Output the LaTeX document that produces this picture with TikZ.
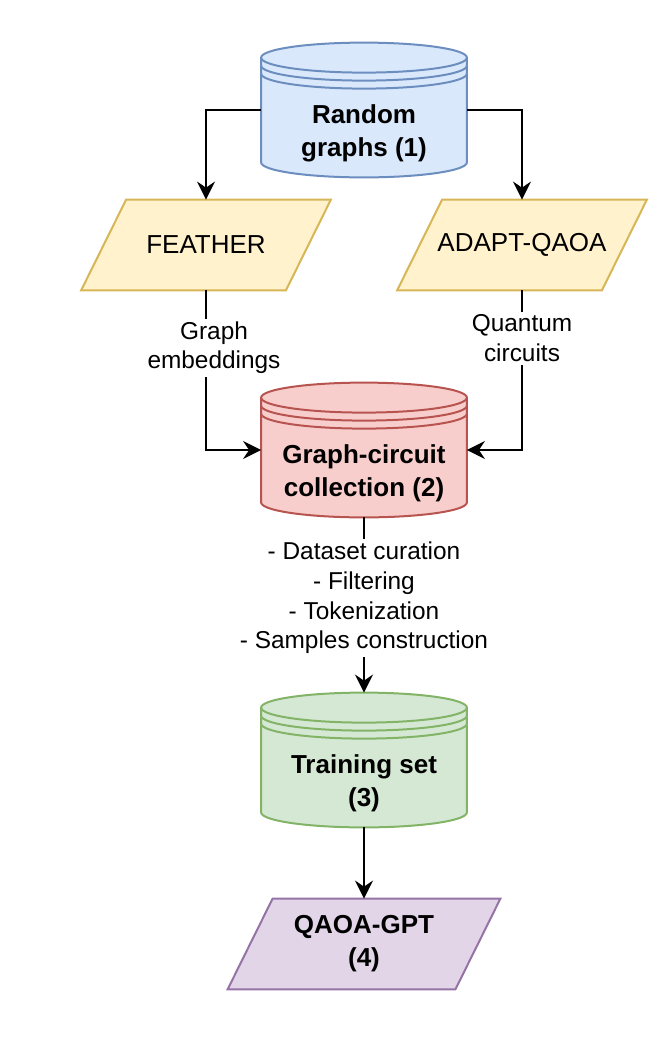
\documentclass[tikz,border=0pt]{standalone}
\usepackage{fontspec}
\setmainfont{Liberation Sans}
\usetikzlibrary{arrows.meta,backgrounds,calc}

\definecolor{blueFill}{HTML}{DAE8FC}
\definecolor{blueLine}{HTML}{6C8EBF}
\definecolor{yellowFill}{HTML}{FFF2CC}
\definecolor{yellowLine}{HTML}{D6B656}
\definecolor{redFill}{HTML}{F8CECC}
\definecolor{redLine}{HTML}{B85450}
\definecolor{greenFill}{HTML}{D5E8D4}
\definecolor{greenLine}{HTML}{82B366}
\definecolor{purpleFill}{HTML}{E1D5E7}
\definecolor{purpleLine}{HTML}{9673A6}

\tikzset{
    store/.style={minimum width=102.5pt, minimum height=44pt, inner sep=0pt, align=center,
        font=\bfseries\fontsize{13}{16.5}\selectfont},
    io/.style={minimum width=102pt, minimum height=45pt, inner sep=0pt, align=center,
        font=\fontsize{13}{16.5}\selectfont},
    flow/.style={-{Stealth[length=9pt, width=9pt, inset=3pt]}, line width=1pt},
    tag/.style={fill=white, align=center, inner sep=1.5pt,
        font=\fontsize{12.2}{14.8}\selectfont},
}

% datastore drawn round the body of node #1
\newcommand{\drawstore}[3]{%
    \draw[line width=1pt, fill=#2, draw=#3]
        let \p1=(#1.north west), \p2=(#1.south east), \n1={(\x2-\x1)/2} in
        (\x1,\y2+7.5pt) -- (\x1,\y1+15.5pt)
        arc[start angle=180, end angle=0, x radius=\n1, y radius=7.5pt]
        -- (\x2,\y2+7.5pt)
        arc[start angle=0, end angle=-180, x radius=\n1, y radius=7.5pt] -- cycle;
    \draw[line width=1pt, draw=#3]
        let \p1=(#1.north west), \p2=(#1.south east), \n1={(\x2-\x1)/2} in
        (\x1,\y1+15.5pt) arc[start angle=180, end angle=360, x radius=\n1, y radius=7.5pt]
        (\x1,\y1+11.5pt) arc[start angle=180, end angle=360, x radius=\n1, y radius=7.5pt]
        (\x1,\y1+7.5pt) arc[start angle=180, end angle=360, x radius=\n1, y radius=7.5pt];
}
% slanted input/output box round node #1
\newcommand{\drawslant}[3]{%
    \draw[line width=1pt, fill=#2, draw=#3]
        ([xshift=11.25pt]#1.north west) -- ([xshift=11.25pt]#1.north east)
        -- ([xshift=-11.25pt]#1.south east) -- ([xshift=-11.25pt]#1.south west) -- cycle;
}

\begin{document}
\begin{tikzpicture}[x=0.5pt, y=-0.5pt]
    \useasboundingbox (0,0) rectangle (662,1040);

    \node[store] (graphs) at (364,133) {Random\\graphs (1)};
    \node[io] (feather) at (206,245) {FEATHER};
    \node[io] (adapt) at (522,245) {ADAPT-QAOA};
    \node[store] (collection) at (364,473) {Graph-circuit\\collection (2)};
    \node[store] (training) at (364,783) {Training set\\(3)};
    \node[io, minimum width=113.5pt, font=\bfseries\fontsize{13}{16.5}\selectfont] (gpt) at (364,944) {QAOA-GPT\\(4)};

    \begin{pgfonlayer}{background}
        \drawstore{graphs}{blueFill}{blueLine}
        \drawstore{collection}{redFill}{redLine}
        \drawstore{training}{greenFill}{greenLine}
        \drawslant{feather}{yellowFill}{yellowLine}
        \drawslant{adapt}{yellowFill}{yellowLine}
        \drawslant{gpt}{purpleFill}{purpleLine}
    \end{pgfonlayer}

    \draw[flow] ([yshift=11.5pt]graphs.west) -| (feather.north);
    \draw[flow] ([yshift=11.5pt]graphs.east) -| (adapt.north);
    \draw[flow] (feather.south) |- node[tag, pos=0.18, xshift=4pt] {Graph\\embeddings} ([yshift=11.5pt]collection.west);
    \draw[flow] (adapt.south) |- node[tag, pos=0.15] {Quantum\\circuits} ([yshift=11.5pt]collection.east);
    \draw[flow] (collection.south) -- node[tag, pos=0.46] {- Dataset curation\\- Filtering\\- Tokenization\\- Samples construction} ([yshift=23pt]training.north);
    \draw[flow] (training.south) -- (gpt.north);
\end{tikzpicture}
\end{document}
